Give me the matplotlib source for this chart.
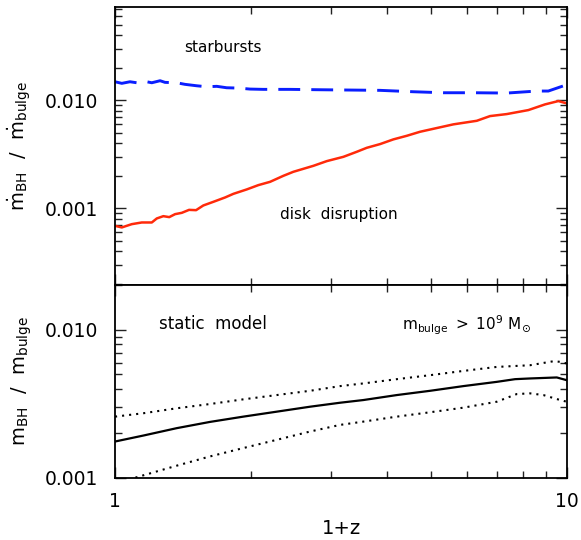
import matplotlib
matplotlib.use('Agg')
import matplotlib.pyplot as plt
from matplotlib.ticker import LogLocator, FixedLocator, FormatStrFormatter, NullFormatter

# starbursts (blue dashed) and disk disruption (red) accretion ratios
SB_X = [1.0, 1.035, 1.079, 1.117, 1.175, 1.206, 1.258, 1.290, 1.369, 1.428,
        1.516, 1.595, 1.679, 1.766, 1.874, 1.989, 2.128, 2.439, 2.841, 3.311,
        3.858, 4.571, 5.325, 6.205, 7.356, 8.57, 9.09, 9.98]
SB_Y = [0.01477, 0.01428, 0.01477, 0.01446, 0.01477, 0.01446, 0.0151, 0.01458,
        0.01446, 0.01398, 0.01356, 0.01328, 0.0134, 0.0130, 0.01291, 0.01264,
        0.01256, 0.01256, 0.01246, 0.01238, 0.0123, 0.01194, 0.01169, 0.01169,
        0.01161, 0.01212, 0.01212, 0.01386]

DD_X = [1.0, 1.035, 1.089, 1.146, 1.206, 1.237, 1.279, 1.318, 1.358, 1.405,
        1.458, 1.511, 1.568, 1.650, 1.752, 1.827, 1.956, 2.075, 2.203, 2.357,
        2.480, 2.747, 2.941, 3.201, 3.425, 3.605, 3.858, 4.128, 4.419, 4.729,
        5.149, 5.604, 6.313, 6.755, 7.356, 8.212, 8.939, 9.567, 9.98]
DD_Y = [6.86e-4, 6.63e-4, 7.11e-4, 7.37e-4, 7.37e-4, 8.03e-4, 8.43e-4, 8.26e-4,
        8.80e-4, 9.05e-4, 9.64e-4, 9.58e-4, 1.059e-3, 1.144e-3, 1.256e-3,
        1.356e-3, 1.490e-3, 1.633e-3, 1.752e-3, 1.991e-3, 2.169e-3, 2.464e-3,
        2.724e-3, 2.985e-3, 3.321e-3, 3.617e-3, 3.915e-3, 4.327e-3, 4.67e-3,
        5.09e-3, 5.51e-3, 5.96e-3, 6.43e-3, 7.11e-3, 7.42e-3, 8.08e-3, 9.12e-3,
        9.79e-3, 9.32e-3]

# static model mass ratio: median and spread
ST_X = [1.0, 1.155, 1.369, 1.622, 1.922, 2.279, 2.700, 3.147, 3.543, 4.201,
        4.977, 5.896, 6.99, 7.674, 8.28, 9.49, 9.98]
ST_MED = [1.760e-3, 1.931e-3, 2.166e-3, 2.387e-3, 2.591e-3, 2.799e-3, 3.023e-3,
          3.216e-3, 3.353e-3, 3.623e-3, 3.871e-3, 4.164e-3, 4.448e-3, 4.638e-3,
          4.689e-3, 4.763e-3, 4.567e-3]

UP_X = [1.0, 1.155, 1.369, 1.622, 1.922, 2.279, 2.700, 3.147, 3.543, 4.201,
        4.977, 5.896, 6.99, 8.28, 9.326, 9.734, 9.98]
UP_Y = [2.591e-3, 2.731e-3, 2.950e-3, 3.152e-3, 3.390e-3, 3.623e-3, 3.871e-3,
        4.164e-3, 4.341e-3, 4.638e-3, 4.934e-3, 5.272e-3, 5.61e-3, 5.759e-3,
        6.126e-3, 6.061e-3, 5.912e-3]

LO_X = [1.0, 1.155, 1.369, 1.622, 1.922, 2.279, 2.700, 3.147, 3.543, 4.201,
        4.977, 5.896, 6.99, 7.740, 8.28, 8.863, 9.49, 9.98]
LO_Y = [9.16e-4, 1.041e-3, 1.209e-3, 1.396e-3, 1.590e-3, 1.807e-3, 2.055e-3,
        2.279e-3, 2.398e-3, 2.591e-3, 2.773e-3, 2.978e-3, 3.266e-3, 3.680e-3,
        3.720e-3, 3.623e-3, 3.405e-3, 3.266e-3]

plt.rcParams['font.family'] = 'DejaVu Sans'
plt.rcParams['mathtext.fontset'] = 'dejavusans'

fig = plt.figure(figsize=(5.81, 5.40), dpi=100)
ax1 = fig.add_axes([0.198, 0.472, 0.778, 0.515])
ax2 = fig.add_axes([0.198, 0.115, 0.778, 0.357])

ax1.plot(SB_X, SB_Y, color='#0a1eff', lw=2.1, dashes=(7.5, 3.8))
ax1.plot(DD_X, DD_Y, color='#ff2a0a', lw=1.8)

ax2.plot(ST_X, ST_MED, color='black', lw=1.6)
ax2.plot(UP_X, UP_Y, color='black', lw=1.5, dashes=(1, 2.4))
ax2.plot(LO_X, LO_Y, color='black', lw=1.5, dashes=(1, 2.4))

for ax in (ax1, ax2):
    ax.set_xscale('log')
    ax.set_yscale('log')
    ax.set_xlim(1, 10)
    ax.xaxis.set_major_locator(FixedLocator([1, 10]))
    ax.xaxis.set_minor_locator(LogLocator(base=10, subs=range(2, 10)))
    ax.yaxis.set_major_locator(FixedLocator([0.001, 0.01]))
    ax.yaxis.set_minor_locator(LogLocator(base=10, subs=range(2, 10)))
    ax.yaxis.set_major_formatter(FormatStrFormatter('%.3f'))
    ax.yaxis.set_minor_formatter(NullFormatter())
    ax.xaxis.set_minor_formatter(NullFormatter())
    ax.tick_params(which='both', direction='in', top=True, right=True,
                   labelsize=13.5, width=1.0, color='#222222')
    ax.tick_params(which='major', length=8)
    ax.tick_params(which='minor', length=5)
    ax.tick_params(axis='y', pad=12)
    ax.tick_params(axis='x', pad=10)
    for s in ax.spines.values():
        s.set_linewidth(1.3)

ax1.set_ylim(1.94e-4, 0.0726)
ax2.set_ylim(0.001, 0.02)
ax1.tick_params(labelbottom=False)
ax2.xaxis.set_major_formatter(FormatStrFormatter('%d'))

ax1.set_ylabel(r'$\dot{\mathrm{m}}_{\mathrm{BH}}\ \ /\ \ \dot{\mathrm{m}}_{\mathrm{bulge}}$',
               fontsize=14)
ax2.set_ylabel(r'$\mathrm{m}_{\mathrm{BH}}\ \ /\ \ \mathrm{m}_{\mathrm{bulge}}$',
               fontsize=14)
ax1.yaxis.set_label_coords(-0.18, 0.5)
ax2.yaxis.set_label_coords(-0.18, 0.5)
ax2.set_xlabel('1+z', fontsize=14)
ax2.xaxis.set_label_coords(0.5, -0.215)

ax1.text(0.239, 0.856, 'starbursts', transform=ax1.transAxes,
         ha='center', va='center', fontsize=11)
ax1.text(0.496, 0.255, 'disk  disruption', transform=ax1.transAxes,
         ha='center', va='center', fontsize=11)
ax2.text(0.217, 0.80, 'static  model', transform=ax2.transAxes,
         ha='center', va='center', fontsize=12)
ax2.text(0.777, 0.79, r'$\mathrm{m_{bulge}}\ >\ 10^9\ \mathrm{M}_{\odot}$',
         transform=ax2.transAxes, ha='center', va='center', fontsize=11)

fig.savefig('out.png', dpi=100)
